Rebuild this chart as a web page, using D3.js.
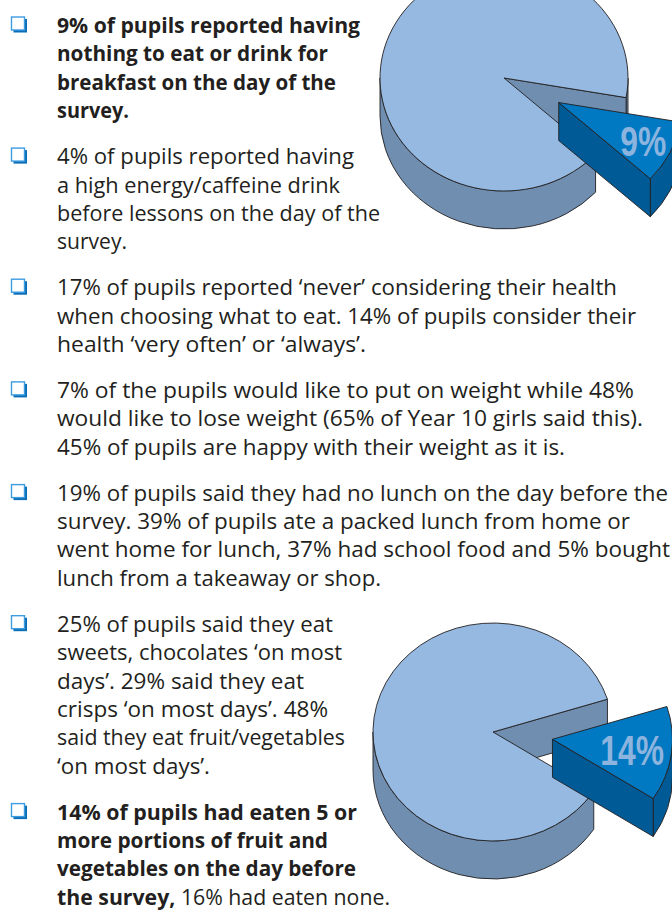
<!DOCTYPE html>
<html>
<head>
<meta charset="utf-8">
<script src="https://cdn.jsdelivr.net/npm/d3@7"></script>
<style>
  html, body { margin: 0; padding: 0; background: #fff; }
  svg { display: block; }
</style>
</head>
<body>
<svg id="chart" width="672" height="911"></svg>
<script>
// pie values (percent of pupils)
const breakfastLabels = ["Nothing for breakfast", "Had breakfast"];
const breakfastValues = [9, 91];
const fruitLabels = ["5 or more portions", "Fewer than 5 portions"];
const fruitValues = [14, 86];

// bullet points, one array of lines each ("**" marks bold runs)
const point1 = ["**9% of pupils reported having**", "**nothing to eat or drink for**", "**breakfast on the day of the**", "**survey.**"];
const point2 = ["4% of pupils reported having", "a high energy/caffeine drink", "before lessons on the day of the", "survey."];
const point3 = ["17% of pupils reported ‘never’ considering their health", "when choosing what to eat. 14% of pupils consider their", "health ‘very often’ or ‘always’."];
const point4 = ["7% of the pupils would like to put on weight while 48%", "would like to lose weight (65% of Year 10 girls said this).", "45% of pupils are happy with their weight as it is."];
const point5 = ["19% of pupils said they had no lunch on the day before the", "survey. 39% of pupils ate a packed lunch from home or", "went home for lunch, 37% had school food and 5% bought", "lunch from a takeaway or shop."];
const point6 = ["25% of pupils said they eat", "sweets, chocolates ‘on most", "days’. 29% said they eat", "crisps ‘on most days’. 48%", "said they eat fruit/vegetables", "‘on most days’."];
const point7 = ["**14% of pupils had eaten 5 or**", "**more portions of fruit and**", "**vegetables on the day before**", "**the survey,** 16% had eaten none."];
const points = [point1, point2, point3, point4, point5, point6, point7];

// layout: right end of each line, so wrapping matches the page
const lineEnds = [
  [360, 328, 336, 129],
  [354, 340, 380, 127],
  [617, 636, 366],
  [634, 643, 565],
  [668, 630, 670, 381],
  [333, 342, 304, 328, 345, 210],
  [357, 328, 356, 390]
];

const svg = d3.select("#chart");
const ink = "#231f20";
const textX = 57, firstBase = 33, lineH = 28.4, blockGap = 45.9;

// text blocks
let base = firstBase;
points.forEach((lines, bi) => {
  // bullet box
  const b = svg.append("g").attr("class", "bullet");
  b.append("rect").attr("x", 13.5).attr("y", base - 14).attr("width", 13.5).attr("height", 13.5)
    .attr("fill", "#0a6db5");
  b.append("rect").attr("x", 11.5).attr("y", base - 16).attr("width", 13).attr("height", 13)
    .attr("fill", "#fff").attr("stroke", "#3d9be0").attr("stroke-width", 1.4);

  lines.forEach((line, li) => {
    const t = svg.append("text")
      .attr("x", textX).attr("y", base + li * lineH)
      .attr("font-family", "'Open Sans', 'Noto Sans', sans-serif")
      .attr("font-size", 22).attr("fill", ink)
      .attr("textLength", lineEnds[bi][li] - textX)
      .attr("lengthAdjust", "spacingAndGlyphs");
    line.split("**").forEach((seg, si) => {
      if (!seg) return;
      t.append("tspan").attr("font-weight", si % 2 ? 700 : 400).text(seg);
    });
  });
  base += (lines.length - 1) * lineH + blockGap;
});

// 3D exploded pie
function pie3d(values, labels, o) {
  const rad = d => d * Math.PI / 180;
  const k = o.ry / o.rx;
  const arcs = d3.pie().sort(null)
    .startAngle(rad(o.start + 90)).endAngle(rad(o.start + 450))(values);
  const g = svg.append("g").attr("class", "pie");

  const pieces = arcs.map((a, i) => {
    const t0 = a.startAngle - Math.PI / 2, t1 = a.endAngle - Math.PI / 2;
    const tm = (t0 + t1) / 2;
    const e = i === 0 ? o.explode : 0;
    return { a, i, t0, t1, tm, cx: o.cx + e * Math.cos(tm), cy: o.cy + e * Math.sin(tm) * k };
  });

  // back piece first, exploded slice on top
  pieces.slice().reverse().forEach(p => {
    const P = (t, dz = 0) => [p.cx + o.rx * Math.cos(t), p.cy + o.ry * Math.sin(t) + dz];
    const hi = p.i === 0;
    const side = hi ? "#005a96" : "#6f8eb0";
    const top = hi ? "#0079c2" : "#95b9e1";

    // outer wall, front half only
    for (let m = -2; m <= 2; m++) {
      const a = Math.max(p.t0, m * 2 * Math.PI), b = Math.min(p.t1, m * 2 * Math.PI + Math.PI);
      if (b <= a) continue;
      g.append("path")
        .attr("d", `M${P(a)}A${o.rx},${o.ry} 0 0 1 ${P(b)}L${P(b, o.h)}A${o.rx},${o.ry} 0 0 0 ${P(a, o.h)}Z`)
        .attr("fill", side).attr("stroke", ink).attr("stroke-width", 0.9).attr("stroke-linejoin", "round");
    }
    // cut faces facing the viewer
    [[p.t0, Math.cos(p.t0) < 0], [p.t1, Math.cos(p.t1) > 0]].forEach(([t, vis]) => {
      if (!vis) return;
      g.append("path")
        .attr("d", `M${p.cx},${p.cy}L${P(t)}L${P(t, o.h)}L${p.cx},${p.cy + o.h}Z`)
        .attr("fill", side).attr("stroke", ink).attr("stroke-width", 0.9).attr("stroke-linejoin", "round");
    });
    // top
    const large = p.t1 - p.t0 > Math.PI ? 1 : 0;
    g.append("path")
      .attr("d", `M${p.cx},${p.cy}L${P(p.t0)}A${o.rx},${o.ry} 0 ${large} 1 ${P(p.t1)}Z`)
      .attr("fill", top).attr("stroke", ink).attr("stroke-width", 0.9).attr("stroke-linejoin", "round");

    if (hi) {
      const lx = p.cx + o.labelR * o.rx * Math.cos(p.tm);
      const ly = p.cy + o.labelR * o.ry * Math.sin(p.tm);
      // condensed bold label, squeezed horizontally
      g.append("text")
        .attr("transform", `translate(${lx},${ly + 15.5}) scale(0.74,1)`)
        .attr("text-anchor", "middle")
        .attr("font-family", "'Liberation Sans', Arial, sans-serif")
        .attr("font-weight", 700).attr("font-size", 43)
        .attr("fill", "#8db4df")
        .text(values[p.i] + "%")
        .append("title").text(labels[p.i]);
    }
  });
}

pie3d(breakfastValues, breakfastLabels, { cx: 504, cy: 78, rx: 124, ry: 113, h: 38, start: 10, explode: 61, labelR: 0.76 });
pie3d(fruitValues, fruitLabels, { cx: 493, cy: 732, rx: 120, ry: 109, h: 38, start: -17.5, explode: 60, labelR: 0.67 });
</script>
</body>
</html>
